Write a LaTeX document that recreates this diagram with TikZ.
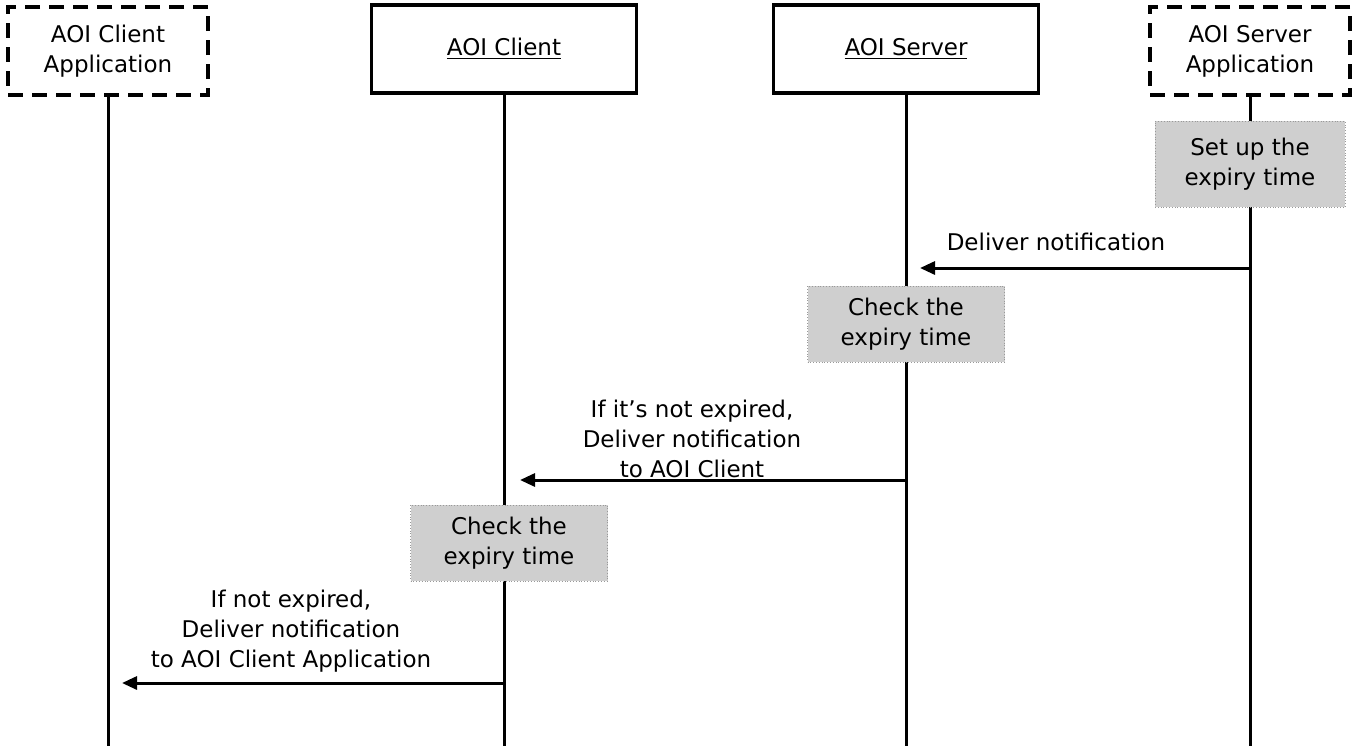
\documentclass[tikz,border=0pt]{standalone}
\usepackage{fontspec}
\setmainfont{DejaVu Sans}
\usetikzlibrary{arrows.meta}
\tikzset{
  actor/.style={draw,line width=1.6pt,minimum width=132.5pt,minimum height=44pt,align=center},
  extactor/.style={actor,dash pattern=on 7.5pt off 4.5pt,minimum width=100pt},
  proc/.style={draw=gray!80,densely dotted,line width=0.4pt,fill=black!19,minimum width=98.5pt,minimum height=38pt,align=center},
  lifeline/.style={line width=1.5pt},
  msg/.style={line width=1.5pt,-{Triangle[length=7.5pt,width=6.5pt]},shorten >=7pt},
}
\begin{document}
\begin{tikzpicture}[x=0.5pt,y=-0.5pt,font=\fontsize{11.5pt}{15pt}\selectfont]
                \useasboundingbox (0,0) rectangle (1354,746);

                \node[extactor] (cliapp) at (108,51) {AOI Client\\Application};
                \node[actor] (cli) at (504,49) {\underline{AOI Client}};
                \node[actor] (srv) at (906,49) {\underline{AOI Server}};
                \node[extactor] (srvapp) at (1250,51) {AOI Server\\Application};

                \coordinate (cliapp-end) at (108,746);
                \coordinate (cli-end) at (504,746);
                \coordinate (srv-end) at (906,746);
                \coordinate (srvapp-end) at (1250,746);

                \draw[lifeline] (cliapp.south) -- (cliapp-end);
                \draw[lifeline] (cli.south) -- (cli-end);
                \draw[lifeline] (srv.south) -- (srv-end);
                \draw[lifeline] (srvapp.south) -- (srvapp-end);

                \node[proc,minimum width=95pt,minimum height=43pt] (setup) at (1250,164) {Set up the\\expiry time};
                \node[proc] (chksrv) at (906,324) {Check the\\expiry time};
                \node[proc] (chkcli) at (509,543) {Check the\\expiry time};

                \coordinate (m1-from) at (1250,268);
                \coordinate (m1-to) at (906,268);
                \draw[msg] (m1-from) -- (m1-to);
                \node (m1-lbl) at (1056,242) {Deliver notification};

                \coordinate (m2-from) at (906,480);
                \coordinate (m2-to) at (504,480);
                \draw[msg,shorten >=8pt] (m2-from) -- (m2-to);
                \node[align=center] (m2-lbl) at (692,439) {If it’s not expired,\\Deliver notification\\to AOI Client};

                \coordinate (m3-from) at (504,683);
                \coordinate (m3-to) at (108,683);
                \draw[msg] (m3-from) -- (m3-to);
                \node[align=center] (m3-lbl) at (291,631) {If not expired,\\Deliver notification\\to AOI Client Application};

            \end{tikzpicture}
\end{document}
